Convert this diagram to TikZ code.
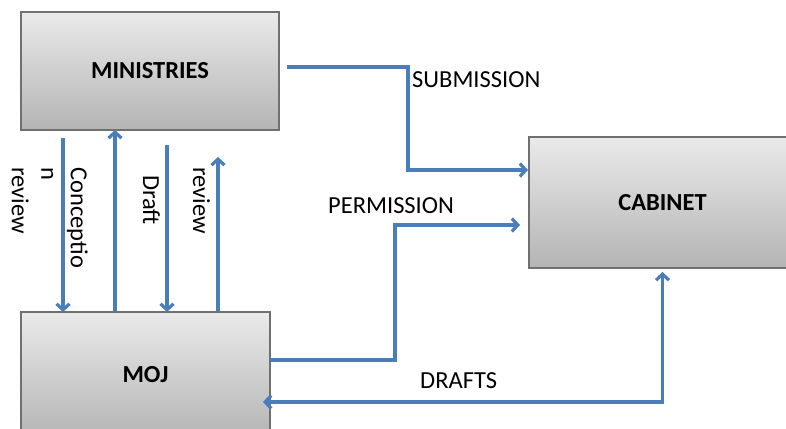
\documentclass[tikz,border=0pt]{standalone}
\usepackage{fontspec}
\setmainfont{Carlito}
\usetikzlibrary{arrows.meta,calc}
\definecolor{flowblue}{HTML}{4A7EBB}
\definecolor{boxtop}{HTML}{EAEAEA}
\definecolor{boxbottom}{HTML}{B4B4B4}
\definecolor{boxline}{HTML}{707070}
\tikzset{
  unit/.style={draw=boxline, line width=1.2pt, top color=boxtop, bottom color=boxbottom,
    inner sep=0pt, outer sep=0pt, font=\bfseries\fontsize{24.5}{29}\selectfont},
  flow/.style={draw=flowblue, line width=3.2pt, -{Straight Barb[length=6pt,width=13pt]}},
  flowboth/.style={draw=flowblue, line width=3.2pt,
    {Straight Barb[length=6pt,width=13pt]}-{Straight Barb[length=6pt,width=13pt]}},
  lbl/.style={inner sep=0pt, font=\fontsize{24.5}{29.5}\selectfont},
}
\begin{document}
\begin{tikzpicture}[x=1pt,y=-1pt]
\useasboundingbox (0,0) rectangle (786,428);
\clip (0,0) rectangle (786,428);

% the three bodies
\node[unit, minimum width=258pt, minimum height=118pt] (min) at (150,71) {MINISTRIES};
\node[unit, minimum width=267pt, minimum height=131pt] (cab) at (662.5,202.5) {CABINET};
\node[unit, minimum width=249pt, minimum height=126pt] (moj) at (145.5,375) {MOJ};

% exchanges between ministries and MOJ
\draw[flow] ($(min.south west)+(42,8)$) -- ($(moj.north west)+(42,0)$);
\draw[flow] ($(moj.north west)+(94,0)$) -- ($(min.south west)+(94,0)$);
\draw[flow] ($(min.south west)+(146,15)$) -- ($(moj.north west)+(146,0)$);
\draw[flow] ($(moj.north west)+(197,0)$) -- ($(min.south west)+(197,27)$);

\node[lbl, rotate=-90, align=left, anchor=north west] (lconc) at (88,167) {Conceptio\\n\\review};
\node[lbl, rotate=-90, anchor=base west] (ldraft) at (143,175) {Draft};
\node[lbl, rotate=-90, anchor=base west] (lrev) at (193,167) {review};

% submission to the cabinet
\coordinate (subS) at ($(min.east)+(8,-4)$);
\coordinate (subT) at ($(cab.west)+(-1,-32.5)$);
\draw[flow] (subS) -| ($(subT)+(-120,0)$) -- (subT);
\node[lbl, anchor=base west] (lsub) at (412,87) {SUBMISSION};

% permission from MOJ
\coordinate (perS) at ($(moj.east)+(0,-15)$);
\coordinate (perT) at ($(cab.west)+(-9,22.5)$);
\draw[flow] (perS) -| ($(perT)+(-125,0)$) -- (perT);
\node[lbl, anchor=base west] (lper) at (328,213) {PERMISSION};

% drafts between MOJ and the cabinet
\draw[flowboth] ($(moj.east)+(-7,27)$) -| ($(cab.south)+(0,4)$);
\node[lbl, anchor=base west] (ldrf) at (420,388) {DRAFTS};
\end{tikzpicture}
\end{document}
